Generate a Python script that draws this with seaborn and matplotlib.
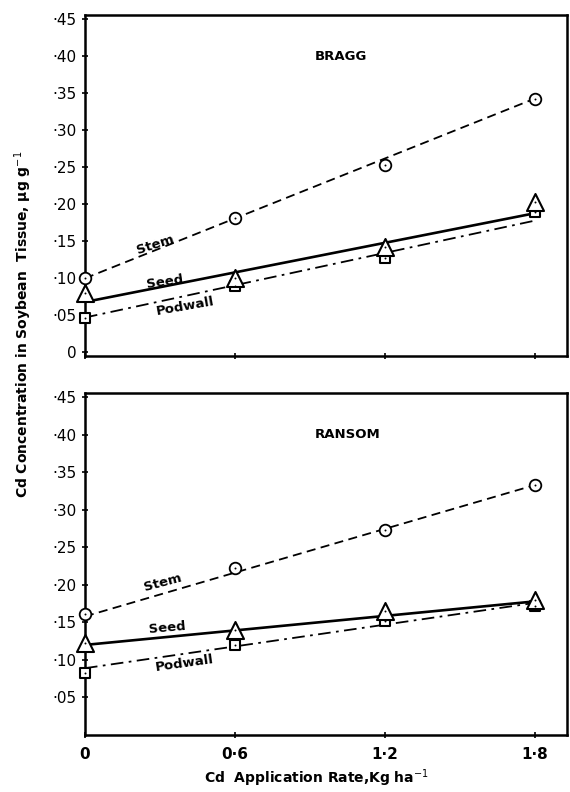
#Cd concentration in soybean tissue - Bragg and Ransom
import numpy as np
import pandas as pd
import seaborn as sns
import matplotlib.pyplot as plt

#Cd application rates
rate = [0, 0.6, 1.2, 1.8]

#Bragg observed values
bragg_stem = [0.101, 0.182, 0.253, 0.343]
bragg_seed = [0.080, 0.100, 0.142, 0.203]
bragg_podwall = [0.047, 0.090, 0.128, 0.190]
#Bragg fitted line ends (at 0 and 1.8)
bragg_stem_fit = [0.100, 0.343]
bragg_seed_fit = [0.068, 0.188]
bragg_podwall_fit = [0.047, 0.178]

#Ransom observed values
ransom_stem = [0.161, 0.222, 0.273, 0.333]
ransom_seed = [0.122, 0.140, 0.165, 0.180]
ransom_podwall = [0.083, 0.120, 0.152, 0.172]
#Ransom fitted line ends
ransom_stem_fit = [0.158, 0.333]
ransom_seed_fit = [0.120, 0.178]
ransom_podwall_fit = [0.089, 0.176]

fit_x = [0, 1.8]

ytick_vals = [0.05, 0.10, 0.15, 0.20, 0.25, 0.30, 0.35, 0.40, 0.45]
ytick_labels = ['·05', '·10', '·15', '·20', '·25', '·30', '·35', '·40', '·45']
xtick_labels = ['0', '0·6', '1·2', '1·8']

sns.set_style("ticks", {'axes.edgecolor': 'black', 'xtick.color': 'black', 'ytick.color': 'black',
                        'text.color': 'black', 'axes.labelcolor': 'black'})
plt.rcParams['font.family'] = ['DejaVu Sans']

fig = plt.figure(figsize=(5.7, 7.92), dpi=100)
ax1 = fig.add_axes([0.149, 0.5505, 0.846, 0.4305])
ax2 = fig.add_axes([0.149, 0.072, 0.846, 0.432])


def panel(ax, name, stem, seed, pod, stem_fit, seed_fit, pod_fit, labels_pos):
    #fitted lines
    sns.lineplot(x=fit_x, y=stem_fit, color='black', linestyle=(0, (5, 3)), linewidth=1.3, ax=ax)
    sns.lineplot(x=fit_x, y=seed_fit, color='black', linestyle='-', linewidth=1.9, ax=ax)
    sns.lineplot(x=fit_x, y=pod_fit, color='black', linestyle=(0, (7, 3, 1.5, 3)), linewidth=1.3, ax=ax)
    #observed points
    sns.scatterplot(x=rate, y=stem, marker='o', s=70, facecolor='white', edgecolor='black', linewidth=1.3, ax=ax, zorder=5)
    sns.scatterplot(x=rate, y=pod, marker='s', s=60, facecolor='white', edgecolor='black', linewidth=1.5, ax=ax, zorder=5)
    sns.scatterplot(x=rate, y=seed, marker='^', s=150, facecolor='white', edgecolor='black', linewidth=1.5, ax=ax, zorder=6)
    for vals in (stem, seed, pod):
        sns.scatterplot(x=rate, y=vals, marker='.', s=8, color='black', linewidth=0, ax=ax, zorder=7)
    for c in ax.collections:
        c.set_clip_on(False)
    ax.text(0.92, 0.40, name, fontsize=9.5, fontweight='bold', ha='left', va='center')
    for txt, (x, y, rot) in zip(['Stem', 'Seed', 'Podwall'], labels_pos):
        ax.text(x, y, txt, fontsize=9.5, fontweight='bold', rotation=rot, ha='center', va='center')
    ax.set_xlim(0, 1.93)
    ax.set_xticks(rate)
    for s in ax.spines.values():
        s.set_linewidth(1.8)
        s.set_visible(True)
    ax.tick_params(axis='both', direction='inout', length=5, width=1.2, labelsize=11)
    ax.set_xlabel('')
    ax.set_ylabel('')


panel(ax1, 'BRAGG', bragg_stem, bragg_seed, bragg_podwall,
      bragg_stem_fit, bragg_seed_fit, bragg_podwall_fit,
      [(0.28, 0.146, 18), (0.32, 0.095, 8), (0.40, 0.062, 10)])
ax1.set_ylim(-0.005, 0.456)
ax1.set_yticks([0] + ytick_vals)
ax1.set_yticklabels(['0'] + ytick_labels)
ax1.set_xticklabels([])

panel(ax2, 'RANSOM', ransom_stem, ransom_seed, ransom_podwall,
      ransom_stem_fit, ransom_seed_fit, ransom_podwall_fit,
      [(0.31, 0.203, 15), (0.33, 0.143, 5), (0.40, 0.096, 8)])
ax2.set_ylim(0, 0.456)
ax2.set_yticks(ytick_vals)
ax2.set_yticklabels(ytick_labels)
ax2.set_xticklabels(xtick_labels, fontweight='bold')
ax2.tick_params(axis='x', pad=6)

fig.text(0.555, 0.004, 'Cd  Application Rate,Kg ha$^{-1}$', fontsize=10, fontweight='bold', ha='center', va='bottom')
fig.text(0.04, 0.59, 'Cd Concentration in Soybean  Tissue, μg g$^{-1}$', fontsize=10, fontweight='bold',
         rotation=90, ha='center', va='center')

plt.savefig('out.png', dpi=100)
